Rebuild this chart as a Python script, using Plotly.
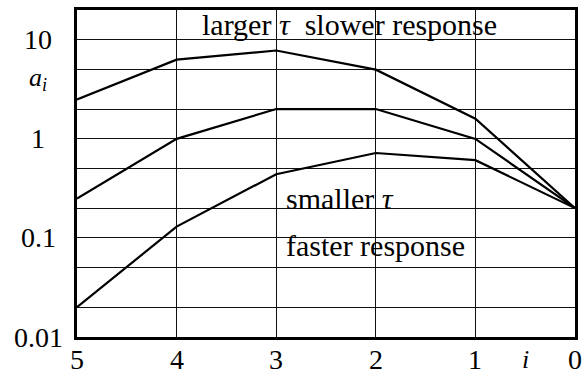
import math
import plotly.graph_objects as go

# stage index (plotted right-to-left)
stages = [5, 4, 3, 2, 1, 0]

# coefficient a_i for three time constants
a_large_tau = [2.5, 6.3, 7.8, 5.0, 1.6, 0.2]
a_mid_tau = [0.25, 1.0, 2.0, 2.0, 1.0, 0.2]
a_small_tau = [0.02, 0.13, 0.44, 0.72, 0.61, 0.2]

# log-axis grid (1-2-5 sequence) and labelled decades
y_grid = [0.01, 0.02, 0.05, 0.1, 0.2, 0.5, 1, 2, 5, 10, 20]
y_label_vals = [10, 1, 0.1, 0.01]
y_label_text = ["10", "1", "0.1", "0.01"]
x_tick_vals = [5, 4, 3, 2, 1, 0]
x_tick_text = ["5", "4", "3", "2", "1", "0"]

FONT = "Liberation Serif"
TICK_SIZE = 28
TEXT_SIZE = 30

fig = go.Figure()
for series in (a_large_tau, a_mid_tau, a_small_tau):
    fig.add_trace(go.Scatter(
        x=stages, y=series, mode="lines",
        line=dict(color="black", width=2.2),
        showlegend=False, hoverinfo="skip",
    ))

fig.update_xaxes(
    range=[5, 0], tickvals=x_tick_vals, showticklabels=False,
    showgrid=True, gridcolor="#111", gridwidth=1,
    showline=True, linecolor="black", linewidth=2.6, mirror=True,
    ticks="", automargin=False, zeroline=False,
)
fig.update_yaxes(
    type="log", range=[-2, 1.30103], tickvals=y_grid,
    showticklabels=False, automargin=False,
    showgrid=True, gridcolor="#111", gridwidth=1,
    showline=True, linecolor="black", linewidth=2.6, mirror=True,
    ticks="", zeroline=False,
)

annotations = []
# y tick labels, centred left of the axis
for v, t in zip(y_label_vals, y_label_text):
    annotations.append(dict(
        x=-0.078, xref="paper", y=math.log10(v), yref="y",
        text=t, showarrow=False, xanchor="center", yanchor="middle",
        font=dict(family=FONT, size=TICK_SIZE, color="black"),
    ))
# x tick labels below the axis
for v, t in zip(x_tick_vals, x_tick_text):
    annotations.append(dict(
        x=v, xref="x", y=-0.07, yref="paper",
        text=t, showarrow=False, xanchor="center", yanchor="middle",
        font=dict(family=FONT, size=TICK_SIZE, color="black"),
    ))

# axis names
annotations.append(dict(
    x=-0.078, xref="paper", y=0.6, yref="y",
    text="<i>a<sub>i</sub></i>", showarrow=False,
    xanchor="center", yanchor="middle",
    font=dict(family=FONT, size=26, color="black"),
))
annotations.append(dict(
    x=0.5, xref="x", y=-0.07, yref="paper",
    text="<i>i</i>", showarrow=False, xanchor="center", yanchor="middle",
    font=dict(family=FONT, size=26, color="black"),
))

# curve descriptions
annotations.append(dict(
    x=2.26, xref="x", y=1.15, yref="y",
    text="larger <i>τ</i>  slower response", showarrow=False,
    xanchor="center", yanchor="middle",
    font=dict(family=FONT, size=TEXT_SIZE, color="black"),
))
annotations.append(dict(
    x=2.92, xref="x", y=-0.6, yref="y",
    text="smaller <i>τ</i>", showarrow=False,
    xanchor="left", yanchor="middle",
    font=dict(family=FONT, size=TEXT_SIZE, color="black"),
))
annotations.append(dict(
    x=2.92, xref="x", y=-1.08, yref="y",
    text="faster response", showarrow=False,
    xanchor="left", yanchor="middle",
    font=dict(family=FONT, size=TEXT_SIZE, color="black"),
))

fig.update_layout(
    width=586, height=377,
    margin=dict(l=77, r=11, t=10, b=40),
    paper_bgcolor="white", plot_bgcolor="white",
    annotations=annotations,
)

fig.write_html("out.html")
